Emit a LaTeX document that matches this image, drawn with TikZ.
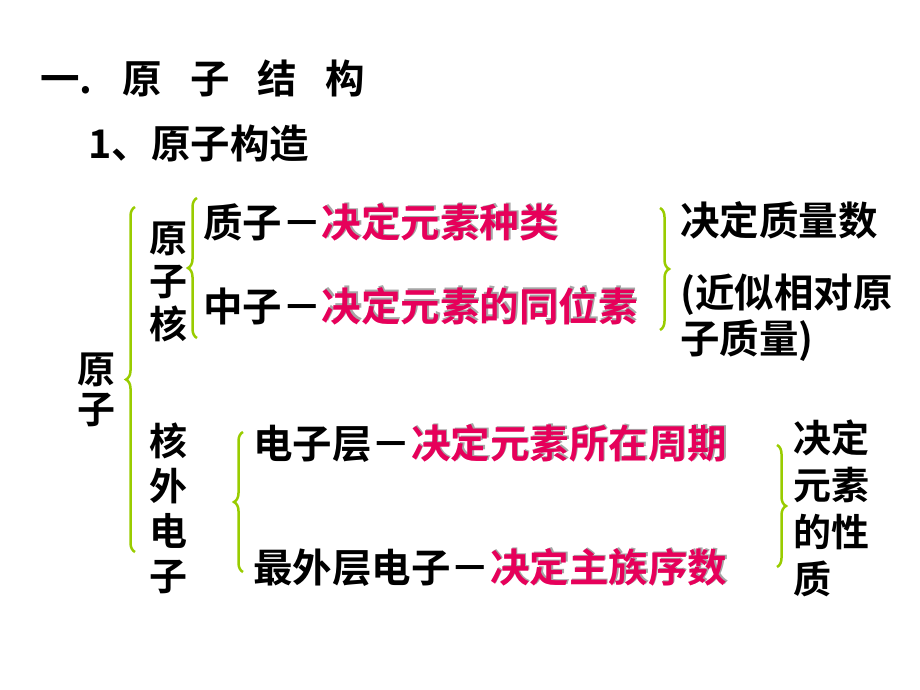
\documentclass[tikz,border=0pt]{standalone}
\usepackage{fontspec}
\setmainfont{Noto Sans CJK SC}[BoldFont={Noto Sans CJK SC Bold}]
\usetikzlibrary{decorations.pathreplacing}
\definecolor{br}{RGB}{153,204,0}
\definecolor{rd}{RGB}{230,0,90}
\begin{document}
\begin{tikzpicture}[x=1pt,y=-1pt,
 t/.style={anchor=west,inner sep=0pt,font=\fontsize{39.5}{46}\selectfont\bfseries},
 b/.style={draw=br,line width=2.5pt,decorate,decoration={brace,amplitude=9pt}}]
\useasboundingbox (0,0) rectangle (920,690);
\newcommand{\rt}[1]{\tikz[baseline]{\node[inner sep=0pt,anchor=base west,text=gray!70] at (1.5,-1.5) {#1};\node[inner sep=0pt,anchor=base west,text=rd] at (0,0) {#1};}}
\node[t] (h1) at (40,78) {一.\hspace{30pt}原\hspace{28pt}子\hspace{28pt}结\hspace{28pt}构};
\node[t] (h2) at (88,143) {1、原子构造};
\node[t,anchor=center,align=center,font=\fontsize{38}{40}\selectfont\bfseries] (yz) at (96,390) {原\\子};
\node[t,anchor=center,align=center,font=\fontsize{38}{43}\selectfont\bfseries] (yzh) at (168,282) {原\\子\\核};
\node[t,anchor=center,align=center,font=\fontsize{38}{45}\selectfont\bfseries] (hw) at (168,508) {核\\外\\电\\子};
\node[t] (zz) at (203,222) {质子－\rt{决定元素种类}};
\node[t] (zhz) at (203,305) {中子－\rt{决定元素的同位素}};
\node[t] (dz) at (253,443) {电子层－\rt{决定元素所在周期}};
\node[t] (zw) at (253,567) {最外层电子－\rt{决定主族序数}};
\node[t] (zl) at (680,220) {决定质量数};
\node[t,align=left] (js) at (680,318) {(近似相对原\\子质量)};
\node[t,align=left,font=\fontsize{38}{47}\selectfont\bfseries] (xz) at (793,508) {决定\\元素\\的性\\质};
\coordinate (a1) at (135,552); \coordinate (a2) at (135,207);
\draw[b] (a1) -- (a2);
\coordinate (b1) at (197,338); \coordinate (b2) at (197,198);
\draw[b] (b1) -- (b2);
\coordinate (c1) at (243,572); \coordinate (c2) at (243,432);
\draw[b] (c1) -- (c2);
\coordinate (d1) at (660,208); \coordinate (d2) at (660,330);
\draw[b] (d1) -- (d2);
\coordinate (e1) at (777,445); \coordinate (e2) at (777,567);
\draw[b] (e1) -- (e2);
\end{tikzpicture}
\end{document}
